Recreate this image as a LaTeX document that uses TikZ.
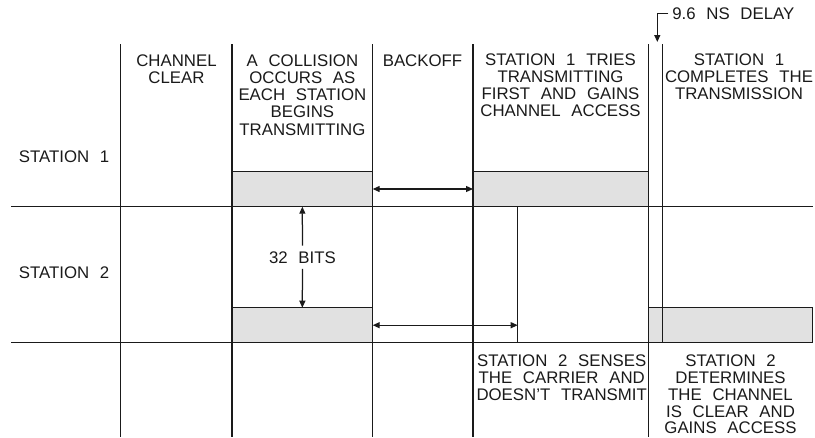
\documentclass[tikz,border=0pt]{standalone}
\usepackage{fontspec}
\setmainfont{Liberation Sans}[WordSpace=2.3]
\usetikzlibrary{arrows.meta}
\definecolor{boxgray}{HTML}{E1E1E1}
\definecolor{ink}{HTML}{1A1A1A}
\begin{document}
\begin{tikzpicture}[x=1pt,y=-1pt,
  line width=1.25pt, draw=ink,
  lbl/.style={font=\fontsize{16.8}{17.1}\selectfont, align=center, inner sep=0pt, text=ink},
  tight/.style={font=\fontsize{16.8}{16.8}\selectfont},
  box/.style={draw=ink, fill=boxgray, line width=1.25pt, inner sep=0pt, outer sep=0pt, anchor=north west},
  grid/.style={draw=ink, line width=1.25pt},
  dbl/.style={draw=ink, line width=1.25pt, {Triangle[length=7pt,width=6pt]}-{Triangle[length=7pt,width=6pt]}},
  one/.style={draw=ink, line width=1.25pt, -{Triangle[length=7pt,width=6pt]}}]
\useasboundingbox (0,0) rectangle (815,437);

% shaded transmission boxes
\node[box, minimum width=140.7pt, minimum height=35.4pt] (s1a) at (232,171.3) {};
\node[box, minimum width=175.3pt, minimum height=35.4pt] (s1b) at (473,171.3) {};
\node[box, minimum width=140.7pt, minimum height=35pt] (s2a) at (232,307.7) {};
\node[box, minimum width=164pt, minimum height=35pt] (s2b) at (648.3,307.7) {};

% grid
\draw[grid] (11,206.7) -- (813,206.7);
\draw[grid] (11,342.7) -- (813,342.7);
\foreach \x in {120.7,232,372.7,473,648.3} {\draw[grid] (\x,44) -- (\x,437);}
\draw[grid] (662.3,44) -- (662.3,342.7);
\coordinate (sense) at (517.7,206.7);
\draw[grid] (sense) -- (517.7,342.7);

% row labels
\node[lbl, anchor=west] (st1) at (18.3,156.7) {STATION 1};
\node[lbl, anchor=west] (st2) at (18.3,272.7) {STATION 2};

% column headings
\node[lbl, anchor=north] (h1) at (176.5,54.3) {CHANNEL\\CLEAR};
\node[lbl, anchor=north] (h2) at (302.4,54.3) {A COLLISION\\OCCURS AS\\EACH STATION\\BEGINS\\TRANSMITTING};
\node[lbl, anchor=north] (h3) at (422.5,54.3) {BACKOFF};
\node[lbl, anchor=north] (h4) at (560.5,53) {STATION 1 TRIES\\TRANSMITTING\\FIRST AND GAINS\\CHANNEL ACCESS};
\node[lbl, anchor=north] (h5) at (739,53) {STATION 1\\COMPLETES THE\\TRANSMISSION};

% bottom notes
\node[lbl, tight, anchor=north] (b1) at (561.7,354.3) {STATION 2 SENSES\\THE CARRIER AND\\DOESN'T TRANSMIT};
\node[lbl, tight, anchor=north] (b2) at (730.5,354.3) {STATION 2\\DETERMINES\\THE CHANNEL\\IS CLEAR AND\\GAINS ACCESS};

% delay marker
\node[lbl, anchor=west, inner xsep=3.4pt] (delay) at (668.3,13.3) {9.6 NS DELAY};
\coordinate (delaytip) at (657.3,42);
\draw[one] (delay.west) -| (delaytip);

% backoff arrows
\draw[dbl] (s1a.east) -- (s1b.west);
\draw[dbl] (s2a.east) -- (s2a.east -| sense);

% 32 bits
\node[lbl, inner ysep=5pt] (bits) at (302.4,257.3) {32 BITS};
\draw[one] (bits.north) -- (s1a.south);
\draw[one] (bits.south) -- (s2a.north);
\end{tikzpicture}
\end{document}
